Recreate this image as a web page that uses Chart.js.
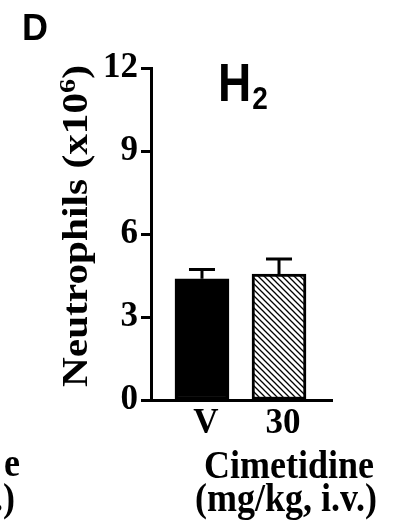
<!DOCTYPE html>
<html>
<head>
<meta charset="utf-8">
<script src="https://cdn.jsdelivr.net/npm/chart.js@4.4.1/dist/chart.umd.min.js"></script>
<style>
html,body{margin:0;padding:0;background:#fff;}
#wrap{width:394px;height:521px;position:relative;}
</style>
</head>
<body>
<div id="wrap"><canvas id="c" width="394" height="521"></canvas></div>
<script>
// ---- data ----
const categories = ['V', '30'];
const means = [4.38, 4.55];
const sems = [0.34, 0.55];
const yTicks = [0, 3, 6, 9, 12];

// hatch pattern
function makeHatch() {
  const s = 6;
  const c = document.createElement('canvas');
  c.width = s; c.height = s;
  const g = c.getContext('2d');
  g.fillStyle = '#fff'; g.fillRect(0, 0, s, s);
  g.strokeStyle = '#000'; g.lineWidth = 1.3;
  g.beginPath();
  g.moveTo(-1, -1); g.lineTo(s + 1, s + 1);
  g.moveTo(-1, s - 1); g.lineTo(1, s + 1);
  g.moveTo(s - 1, -1); g.lineTo(s + 1, 1);
  g.stroke();
  return g.createPattern(c, 'repeat');
}
const hatch = makeHatch();

const errorBars = {
  id: 'errorBars',
  afterDatasetsDraw(chart) {
    const ctx = chart.ctx;
    const ys = chart.scales.y;
    const meta = chart.getDatasetMeta(0);
    ctx.save();
    ctx.strokeStyle = '#000';
    ctx.lineWidth = 3;
    meta.data.forEach((bar, i) => {
      const x = bar.x;
      const y0 = ys.getPixelForValue(means[i]);
      const y1 = ys.getPixelForValue(means[i] + sems[i]);
      ctx.beginPath();
      ctx.moveTo(x, y0);
      ctx.lineTo(x, y1);
      ctx.moveTo(x - 13, y1);
      ctx.lineTo(x + 13, y1);
      ctx.stroke();
    });
    ctx.restore();
  }
};

const texts = {
  id: 'texts',
  afterDraw(chart) {
    const ctx = chart.ctx;
    ctx.save();
    ctx.fillStyle = '#000';
    // panel letter
    ctx.font = 'bold 36px "Liberation Sans"';
    ctx.textAlign = 'left'; ctx.textBaseline = 'alphabetic';
    ctx.fillText('D', 22, 40);
    // H2
    ctx.save();
    ctx.translate(218, 101);
    ctx.scale(1, 1.15);
    ctx.font = 'bold 46px "Liberation Sans"';
    ctx.fillText('H', 0, 0);
    const hw = ctx.measureText('H').width;
    ctx.font = 'bold 28px "Liberation Sans"';
    ctx.fillText('2', hw + 1, 7);
    ctx.restore();
    // y title
    ctx.save();
    ctx.translate(87, 226);
    ctx.rotate(-Math.PI / 2);
    ctx.scale(1.18, 1);
    const big = 'bold 35px "Liberation Serif"';
    const small = 'bold 24px "Liberation Serif"';
    const p1 = 'Neutrophils (x10', p2 = '6', p3 = ')';
    ctx.font = big; const w1 = ctx.measureText(p1).width; const w3 = ctx.measureText(p3).width;
    ctx.font = small; const w2 = ctx.measureText(p2).width;
    let x = -(w1 + w2 + w3) / 2;
    ctx.font = big; ctx.fillText(p1, x, 0); x += w1;
    ctx.font = small; ctx.fillText(p2, x, -12); x += w2;
    ctx.font = big; ctx.fillText(p3, x, 0);
    ctx.restore();
    // x title
    ctx.save();
    ctx.font = 'bold 36px "Liberation Serif"';
    ctx.textAlign = 'center';
    ctx.translate(289, 478); ctx.scale(1, 1.12);
    ctx.fillText('Cimetidine', 0, 0);
    ctx.restore();
    ctx.save();
    ctx.font = 'bold 36px "Liberation Serif"';
    ctx.textAlign = 'center';
    ctx.translate(286, 511); ctx.scale(1, 1.12);
    ctx.fillText('(mg/kg, i.v.)', 0, 0);
    ctx.restore();
    // cut-off text from neighbouring panel
    ctx.save();
    ctx.font = 'bold 36px "Liberation Serif"';
    ctx.textAlign = 'right';
    ctx.translate(20, 476); ctx.scale(1, 1.12);
    ctx.fillText('e', 0, 0);
    ctx.restore();
    ctx.save();
    ctx.font = 'bold 36px "Liberation Serif"';
    ctx.textAlign = 'right';
    ctx.translate(15, 511); ctx.scale(1, 1.12);
    ctx.fillText('.)', 0, 0);
    ctx.restore();
    ctx.restore();
  }
};

new Chart(document.getElementById('c'), {
  type: 'bar',
  data: {
    datasets: [{
      data: categories.map((c, i) => ({ x: i, y: means[i] })),
      backgroundColor: ['#000', hatch],
      borderColor: '#000',
      borderWidth: 3,
      borderSkipped: false,
      barThickness: 54
    }]
  },
  options: {
    responsive: false,
    animation: false,
    events: [],
    layout: { padding: { left: 0, top: 68, right: 62, bottom: 0 } },
    plugins: { legend: { display: false }, tooltip: { enabled: false } },
    scales: {
      x: {
        type: 'linear',
        offset: false,
        min: -0.662,
        max: 1.688,
        afterFit(s) { s.height = 121; },
        afterBuildTicks(s) { s.ticks = categories.map((c, i) => ({ value: i })); },
        grid: { display: true, offset: false, drawOnChartArea: false, drawTicks: false },
        border: { display: true, color: '#000', width: 3 },
        ticks: {
          callback: (v) => categories[v],
          color: '#000',
          font: { family: 'Liberation Serif', weight: 'bold', size: 35 },
          padding: 3,
          labelOffset: 4,
          maxRotation: 0,
          autoSkip: false
        }
      },
      y: {
        min: 0,
        max: 12,
        afterFit(s) { s.width = 151; },
        afterBuildTicks(s) { s.ticks = yTicks.map(v => ({ value: v })); },
        grid: { drawOnChartArea: false, drawTicks: true, tickLength: 10, tickWidth: 3, tickColor: '#000', color: '#000' },
        border: { display: true, color: '#000', width: 3 },
        ticks: {
          color: '#000',
          font: { family: 'Liberation Serif', weight: 'bold', size: 35 },
          padding: 3
        }
      }
    }
  },
  plugins: [errorBars, texts]
});
</script>
</body>
</html>
